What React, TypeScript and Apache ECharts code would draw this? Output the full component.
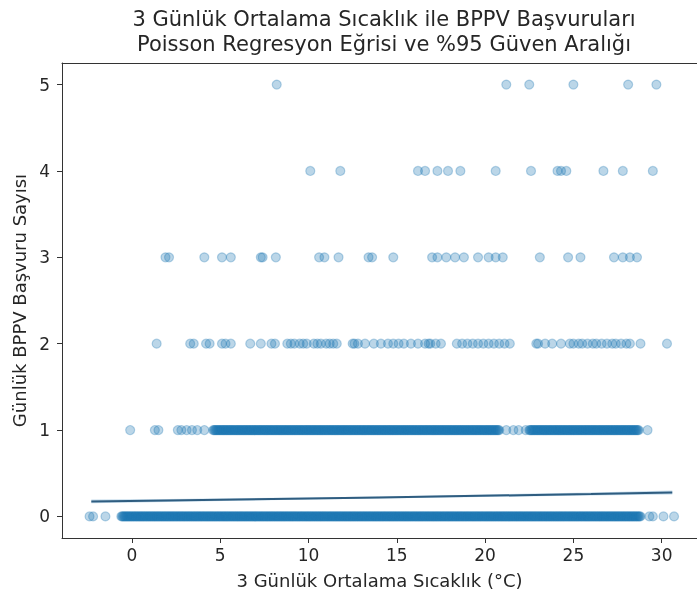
import React, { useEffect, useRef } from "react";
import * as echarts from "echarts";

// Daily BPPV visit counts plotted against 3-day mean temperature (°C), grouped by count
const count0Temps = [
  -2.4, -2.2, -1.5,
  -0.6, -0.5, -0.4, -0.3, -0.2, -0.1,
  0.0, 0.1, 0.2, 0.3, 0.4, 0.5, 0.6, 0.7, 0.8, 0.9,
  1.0, 1.1, 1.2, 1.3, 1.4, 1.5, 1.6, 1.7, 1.8, 1.9,
  2.0, 2.1, 2.2, 2.3, 2.4, 2.5, 2.6, 2.7, 2.8, 2.9,
  3.0, 3.1, 3.2, 3.3, 3.4, 3.5, 3.6, 3.7, 3.8, 3.9,
  4.0, 4.1, 4.2, 4.3, 4.4, 4.5, 4.6, 4.7, 4.8, 4.9,
  5.0, 5.1, 5.2, 5.3, 5.4, 5.5, 5.6, 5.7, 5.8, 5.9,
  6.0, 6.1, 6.2, 6.3, 6.4, 6.5, 6.6, 6.7, 6.8, 6.9,
  7.0, 7.1, 7.2, 7.3, 7.4, 7.5, 7.6, 7.7, 7.8, 7.9,
  8.0, 8.1, 8.2, 8.3, 8.4, 8.5, 8.6, 8.7, 8.8, 8.9,
  9.0, 9.1, 9.2, 9.3, 9.4, 9.5, 9.6, 9.7, 9.8, 9.9,
  10.0, 10.1, 10.2, 10.3, 10.4, 10.5, 10.6, 10.7, 10.8, 10.9,
  11.0, 11.1, 11.2, 11.3, 11.4, 11.5, 11.6, 11.7, 11.8, 11.9,
  12.0, 12.1, 12.2, 12.3, 12.4, 12.5, 12.6, 12.7, 12.8, 12.9,
  13.0, 13.1, 13.2, 13.3, 13.4, 13.5, 13.6, 13.7, 13.8, 13.9,
  14.0, 14.1, 14.2, 14.3, 14.4, 14.5, 14.6, 14.7, 14.8, 14.9,
  15.0, 15.1, 15.2, 15.3, 15.4, 15.5, 15.6, 15.7, 15.8, 15.9,
  16.0, 16.1, 16.2, 16.3, 16.4, 16.5, 16.6, 16.7, 16.8, 16.9,
  17.0, 17.1, 17.2, 17.3, 17.4, 17.5, 17.6, 17.7, 17.8, 17.9,
  18.0, 18.1, 18.2, 18.3, 18.4, 18.5, 18.6, 18.7, 18.8, 18.9,
  19.0, 19.1, 19.2, 19.3, 19.4, 19.5, 19.6, 19.7, 19.8, 19.9,
  20.0, 20.1, 20.2, 20.3, 20.4, 20.5, 20.6, 20.7, 20.8, 20.9,
  21.0, 21.1, 21.2, 21.3, 21.4, 21.5, 21.6, 21.7, 21.8, 21.9,
  22.0, 22.1, 22.2, 22.3, 22.4, 22.5, 22.6, 22.7, 22.8, 22.9,
  23.0, 23.1, 23.2, 23.3, 23.4, 23.5, 23.6, 23.7, 23.8, 23.9,
  24.0, 24.1, 24.2, 24.3, 24.4, 24.5, 24.6, 24.7, 24.8, 24.9,
  25.0, 25.1, 25.2, 25.3, 25.4, 25.5, 25.6, 25.7, 25.8, 25.9,
  26.0, 26.1, 26.2, 26.3, 26.4, 26.5, 26.6, 26.7, 26.8, 26.9,
  27.0, 27.1, 27.2, 27.3, 27.4, 27.5, 27.6, 27.7, 27.8, 27.9,
  28.0, 28.1, 28.2, 28.3, 28.4, 28.5, 28.6, 28.7, 28.8,
  29.3, 29.5, 30.1, 30.7,
];

// Further zero-visit days (temperatures recorded to two decimals)
const count0TempsMore = [
  -0.55, -0.45, -0.35, -0.25, -0.15, -0.05,
  0.05, 0.15, 0.25, 0.35, 0.45, 0.55, 0.65, 0.75, 0.85, 0.95,
  1.05, 1.15, 1.25, 1.35, 1.45, 1.55, 1.65, 1.75, 1.85, 1.95,
  2.05, 2.15, 2.25, 2.35, 2.45, 2.55, 2.65, 2.75, 2.85, 2.95,
  3.05, 3.15, 3.25, 3.35, 3.45, 3.55, 3.65, 3.75, 3.85, 3.95,
  4.05, 4.15, 4.25, 4.35, 4.45, 4.55, 4.65, 4.75, 4.85, 4.95,
  5.05, 5.15, 5.25, 5.35, 5.45, 5.55, 5.65, 5.75, 5.85, 5.95,
  6.05, 6.15, 6.25, 6.35, 6.45, 6.55, 6.65, 6.75, 6.85, 6.95,
  7.05, 7.15, 7.25, 7.35, 7.45, 7.55, 7.65, 7.75, 7.85, 7.95,
  8.05, 8.15, 8.25, 8.35, 8.45, 8.55, 8.65, 8.75, 8.85, 8.95,
  9.05, 9.15, 9.25, 9.35, 9.45, 9.55, 9.65, 9.75, 9.85, 9.95,
  10.05, 10.15, 10.25, 10.35, 10.45, 10.55, 10.65, 10.75, 10.85, 10.95,
  11.05, 11.15, 11.25, 11.35, 11.45, 11.55, 11.65, 11.75, 11.85, 11.95,
  12.05, 12.15, 12.25, 12.35, 12.45, 12.55, 12.65, 12.75, 12.85, 12.95,
  13.05, 13.15, 13.25, 13.35, 13.45, 13.55, 13.65, 13.75, 13.85, 13.95,
  14.05, 14.15, 14.25, 14.35, 14.45, 14.55, 14.65, 14.75, 14.85, 14.95,
  15.05, 15.15, 15.25, 15.35, 15.45, 15.55, 15.65, 15.75, 15.85, 15.95,
  16.05, 16.15, 16.25, 16.35, 16.45, 16.55, 16.65, 16.75, 16.85, 16.95,
  17.05, 17.15, 17.25, 17.35, 17.45, 17.55, 17.65, 17.75, 17.85, 17.95,
  18.05, 18.15, 18.25, 18.35, 18.45, 18.55, 18.65, 18.75, 18.85, 18.95,
  19.05, 19.15, 19.25, 19.35, 19.45, 19.55, 19.65, 19.75, 19.85, 19.95,
  20.05, 20.15, 20.25, 20.35, 20.45, 20.55, 20.65, 20.75, 20.85, 20.95,
  21.05, 21.15, 21.25, 21.35, 21.45, 21.55, 21.65, 21.75, 21.85, 21.95,
  22.05, 22.15, 22.25, 22.35, 22.45, 22.55, 22.65, 22.75, 22.85, 22.95,
  23.05, 23.15, 23.25, 23.35, 23.45, 23.55, 23.65, 23.75, 23.85, 23.95,
  24.05, 24.15, 24.25, 24.35, 24.45, 24.55, 24.65, 24.75, 24.85, 24.95,
  25.05, 25.15, 25.25, 25.35, 25.45, 25.55, 25.65, 25.75, 25.85, 25.95,
  26.05, 26.15, 26.25, 26.35, 26.45, 26.55, 26.65, 26.75, 26.85, 26.95,
  27.05, 27.15, 27.25, 27.35, 27.45, 27.55, 27.65, 27.75, 27.85, 27.95,
  28.05, 28.15, 28.25, 28.35, 28.45, 28.55, 28.65, 28.75,
];

const count1Temps = [
  -0.1, 1.3, 1.5, 2.6, 2.8, 3.1, 3.4, 3.7, 4.1,
  4.6, 4.7, 4.8, 4.9,
  5.0, 5.1, 5.2, 5.3, 5.4, 5.5, 5.6, 5.7, 5.8, 5.9,
  6.0, 6.1, 6.2, 6.3, 6.4, 6.5, 6.6, 6.7, 6.8, 6.9,
  7.0, 7.1, 7.2, 7.3, 7.4, 7.5, 7.6, 7.7, 7.8, 7.9,
  8.0, 8.1, 8.2, 8.3, 8.4, 8.5, 8.6, 8.7, 8.8, 8.9,
  9.0, 9.1, 9.2, 9.3, 9.4, 9.5, 9.6, 9.7, 9.8, 9.9,
  10.0, 10.1, 10.2, 10.3, 10.4, 10.5, 10.6, 10.7, 10.8, 10.9,
  11.0, 11.1, 11.2, 11.3, 11.4, 11.5, 11.6, 11.7, 11.8, 11.9,
  12.0, 12.1, 12.2, 12.3, 12.4, 12.5, 12.6, 12.7, 12.8, 12.9,
  13.0, 13.1, 13.2, 13.3, 13.4, 13.5, 13.6, 13.7, 13.8, 13.9,
  14.0, 14.1, 14.2, 14.3, 14.4, 14.5, 14.6, 14.7, 14.8, 14.9,
  15.0, 15.1, 15.2, 15.3, 15.4, 15.5, 15.6, 15.7, 15.8, 15.9,
  16.0, 16.1, 16.2, 16.3, 16.4, 16.5, 16.6, 16.7, 16.8, 16.9,
  17.0, 17.1, 17.2, 17.3, 17.4, 17.5, 17.6, 17.7, 17.8, 17.9,
  18.0, 18.1, 18.2, 18.3, 18.4, 18.5, 18.6, 18.7, 18.8, 18.9,
  19.0, 19.1, 19.2, 19.3, 19.4, 19.5, 19.6, 19.7, 19.8, 19.9,
  20.0, 20.1, 20.2, 20.3, 20.4, 20.5, 20.6, 20.7, 20.8,
  21.2, 21.6, 21.9, 22.3,
  22.5, 22.6, 22.7, 22.8, 22.9,
  23.0, 23.1, 23.2, 23.3, 23.4, 23.5, 23.6, 23.7, 23.8, 23.9,
  24.0, 24.1, 24.2, 24.3, 24.4, 24.5, 24.6, 24.7, 24.8, 24.9,
  25.0, 25.1, 25.2, 25.3, 25.4, 25.5, 25.6, 25.7, 25.8, 25.9,
  26.0, 26.1, 26.2, 26.3, 26.4, 26.5, 26.6, 26.7, 26.8, 26.9,
  27.0, 27.1, 27.2, 27.3, 27.4, 27.5, 27.6, 27.7, 27.8, 27.9,
  28.0, 28.1, 28.2, 28.3, 28.4, 28.5, 28.6, 28.7,
  29.2,
];

// Further one-visit days
const count1TempsMore = [
  4.65, 4.75, 4.85, 4.95,
  5.05, 5.15, 5.25, 5.35, 5.45, 5.55, 5.65, 5.75, 5.85, 5.95,
  6.05, 6.15, 6.25, 6.35, 6.45, 6.55, 6.65, 6.75, 6.85, 6.95,
  7.05, 7.15, 7.25, 7.35, 7.45, 7.55, 7.65, 7.75, 7.85, 7.95,
  8.05, 8.15, 8.25, 8.35, 8.45, 8.55, 8.65, 8.75, 8.85, 8.95,
  9.05, 9.15, 9.25, 9.35, 9.45, 9.55, 9.65, 9.75, 9.85, 9.95,
  10.05, 10.15, 10.25, 10.35, 10.45, 10.55, 10.65, 10.75, 10.85, 10.95,
  11.05, 11.15, 11.25, 11.35, 11.45, 11.55, 11.65, 11.75, 11.85, 11.95,
  12.05, 12.15, 12.25, 12.35, 12.45, 12.55, 12.65, 12.75, 12.85, 12.95,
  13.05, 13.15, 13.25, 13.35, 13.45, 13.55, 13.65, 13.75, 13.85, 13.95,
  14.05, 14.15, 14.25, 14.35, 14.45, 14.55, 14.65, 14.75, 14.85, 14.95,
  15.05, 15.15, 15.25, 15.35, 15.45, 15.55, 15.65, 15.75, 15.85, 15.95,
  16.05, 16.15, 16.25, 16.35, 16.45, 16.55, 16.65, 16.75, 16.85, 16.95,
  17.05, 17.15, 17.25, 17.35, 17.45, 17.55, 17.65, 17.75, 17.85, 17.95,
  18.05, 18.15, 18.25, 18.35, 18.45, 18.55, 18.65, 18.75, 18.85, 18.95,
  19.05, 19.15, 19.25, 19.35, 19.45, 19.55, 19.65, 19.75, 19.85, 19.95,
  20.05, 20.15, 20.25, 20.35, 20.45, 20.55, 20.65, 20.75,
  22.55, 22.65, 22.75, 22.85, 22.95,
  23.05, 23.15, 23.25, 23.35, 23.45, 23.55, 23.65, 23.75, 23.85, 23.95,
  24.05, 24.15, 24.25, 24.35, 24.45, 24.55, 24.65, 24.75, 24.85, 24.95,
  25.05, 25.15, 25.25, 25.35, 25.45, 25.55, 25.65, 25.75, 25.85, 25.95,
  26.05, 26.15, 26.25, 26.35, 26.45, 26.55, 26.65, 26.75, 26.85, 26.95,
  27.05, 27.15, 27.25, 27.35, 27.45, 27.55, 27.65, 27.75, 27.85, 27.95,
  28.05, 28.15, 28.25, 28.35, 28.45, 28.55, 28.65,
];

const count2Temps = [
  1.4, 3.3, 3.5, 4.2, 4.4, 5.1, 5.3, 5.6, 6.7, 7.3, 7.9, 8.1,
  8.8, 9.0, 9.2, 9.5, 9.7, 9.9, 10.3, 10.5, 10.7, 11.0, 11.2, 11.4, 11.6,
  12.5, 12.6, 12.8, 13.2, 13.7, 14.1, 14.5, 14.8, 15.1, 15.4, 15.8,
  16.2, 16.6, 16.8, 16.9, 17.2, 17.5, 18.4, 18.7, 19.0, 19.3, 19.6,
  19.9, 20.2, 20.5, 20.8, 21.1, 21.4, 22.9, 23.0, 23.4, 23.8, 24.3,
  24.8, 25.0, 25.3, 25.5, 25.8, 26.1, 26.3, 26.6, 26.9, 27.2, 27.4,
  27.7, 28.0, 28.2, 28.8, 30.3,
];

const count3Temps = [
  1.9, 2.1, 4.1, 5.1, 5.6, 7.3, 7.4, 8.15, 10.6, 10.9, 11.7, 13.4, 13.6,
  14.8, 17.0, 17.3, 17.8, 18.3, 18.8, 19.6, 20.2, 20.6, 21.0, 23.1,
  24.7, 25.4, 27.3, 27.8, 28.2, 28.6,
];

const count4Temps = [
  10.1, 11.8, 16.2, 16.6, 17.3, 17.9, 18.6, 20.6, 22.6, 24.1, 24.3,
  24.6, 26.7, 27.8, 29.5,
];

const count5Temps = [8.2, 21.2, 22.5, 25.0, 28.1, 29.7];

const visitCounts = [0, 1, 2, 3, 4, 5];
const tempsByCount = [
  [...count0Temps, ...count0TempsMore],
  [...count1Temps, ...count1TempsMore],
  count2Temps,
  count3Temps,
  count4Temps,
  count5Temps,
];

// Poisson regression fit and its 95% confidence band
const fitTemps = [-2.3, 2, 6, 10, 14, 18, 22, 26, 30.6];
const fitMean = [0.173, 0.185, 0.196, 0.207, 0.219, 0.232, 0.246, 0.26, 0.277];
const fitLower = [0.151, 0.168, 0.182, 0.195, 0.207, 0.219, 0.231, 0.243, 0.255];
const fitUpper = [0.195, 0.202, 0.210, 0.219, 0.231, 0.245, 0.261, 0.277, 0.299];

const xTickValues = [0, 5, 10, 15, 20, 25, 30];
const yTickValues = [0, 1, 2, 3, 4, 5];

const FONT = "DejaVu Sans";
const TEXT = "#262626";
const AXIS = "#333333";
const X_MIN = -3.96;
const X_MAX = 32.0;

export default function App() {
  const ref = useRef<HTMLDivElement>(null);

  useEffect(() => {
    if (!ref.current) return;
    const chart = echarts.init(ref.current, null, { renderer: "svg" });

    const points: number[][] = [];
    tempsByCount.forEach((temps, i) => {
      temps.forEach((t) => points.push([t, visitCounts[i]]));
    });

    const meanData = fitTemps.map((t, i) => [t, fitMean[i]]);

    const hiddenAxisParts = {
      axisTick: { show: false },
      axisLabel: { show: false },
      splitLine: { show: false },
    };

    chart.setOption({
      animation: false,
      title: {
        text: "3 Günlük Ortalama Sıcaklık ile BPPV Başvuruları\nPoisson Regresyon Eğrisi ve %95 Güven Aralığı",
        left: 379,
        textAlign: "center",
        top: 1,
        textStyle: {
          fontFamily: FONT,
          fontSize: 21,
          fontWeight: "normal",
          color: TEXT,
          lineHeight: 25.5,
        },
      },
      grid: {
        left: 62,
        top: 63,
        bottom: 61,
        right: 0,
        show: false,
      },
      xAxis: [
        {
          type: "value",
          min: X_MIN,
          max: X_MAX,
          name: "3 Günlük Ortalama Sıcaklık (°C)",
          nameLocation: "middle",
          nameGap: 33,
          nameTextStyle: { fontFamily: FONT, fontSize: 18, color: TEXT },
          axisLine: { show: true, onZero: false, lineStyle: { color: AXIS, width: 1 } },
          axisTick: { show: true, length: 5, customValues: xTickValues, lineStyle: { color: AXIS } },
          axisLabel: {
            customValues: xTickValues,
            margin: 8,
            fontFamily: FONT,
            fontSize: 17,
            color: TEXT,
          },
          splitLine: { show: false },
        },
        {
          type: "value",
          position: "top",
          min: X_MIN,
          max: X_MAX,
          axisLine: { show: true, onZero: false, lineStyle: { color: AXIS, width: 1 } },
          ...hiddenAxisParts,
        },
      ],
      yAxis: {
        type: "value",
        min: -0.25,
        max: 5.25,
        name: "Günlük BPPV Başvuru Sayısı",
        nameLocation: "middle",
        nameGap: 33,
        nameTextStyle: { fontFamily: FONT, fontSize: 18, color: TEXT },
        axisLine: { show: true, onZero: false, lineStyle: { color: AXIS, width: 1 } },
        axisTick: { show: true, length: 5, customValues: yTickValues, lineStyle: { color: AXIS } },
        axisLabel: {
          customValues: yTickValues,
          margin: 12,
          fontFamily: FONT,
          fontSize: 17,
          color: TEXT,
        },
        splitLine: { show: false },
      },
      series: [
        {
          type: "scatter",
          data: points,
          symbol: "circle",
          symbolSize: 9,
          itemStyle: {
            color: "#1f77b4",
            borderColor: "#1f77b4",
            borderWidth: 1.2,
            opacity: 0.3,
          },
          z: 2,
        },
        {
          // confidence band as a single polygon between the upper and lower bounds
          type: "custom",
          data: [[fitTemps[0], fitMean[0]]],
          renderItem: (_params: any, api: any) => {
            const upper = fitTemps.map((t, i) => api.coord([t, fitUpper[i]]));
            const lower = fitTemps.map((t, i) => api.coord([t, fitLower[i]])).reverse();
            return {
              type: "polygon",
              shape: { points: [...upper, ...lower] },
              style: { fill: "rgba(31,119,180,0.25)" },
            };
          },
          z: 3,
        },
        {
          type: "line",
          data: meanData,
          symbol: "none",
          lineStyle: { color: "#2f5d80", width: 2 },
          z: 4,
        },
      ],
    });

    return () => chart.dispose();
  }, []);

  return (
    <div
      ref={ref}
      style={{ position: "fixed", left: 0, top: 0, width: 697, height: 599 }}
    />
  );
}
